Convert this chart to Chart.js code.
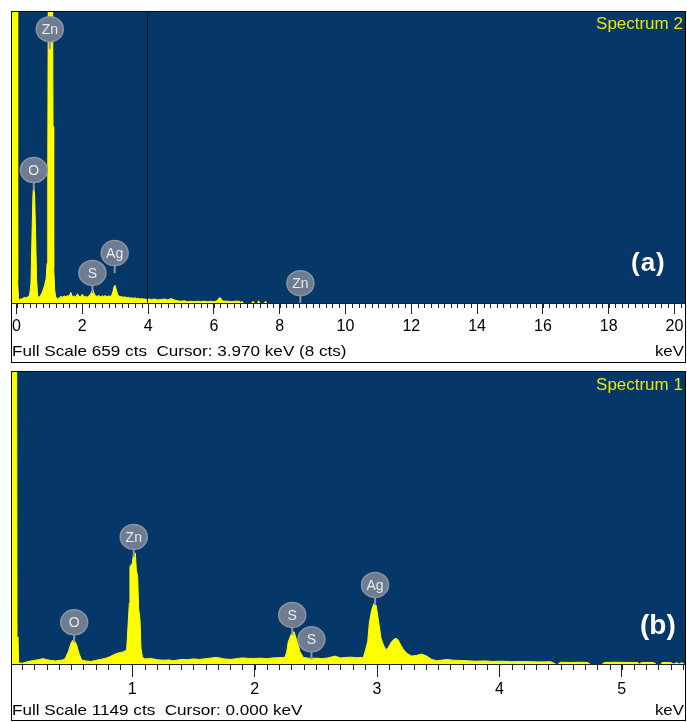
<!DOCTYPE html>
<html><head><meta charset="utf-8">
<script src="https://cdn.jsdelivr.net/npm/chart.js@4.4.1/dist/chart.umd.min.js"></script>
<style>
html,body{margin:0;padding:0;background:#fff;width:687px;height:722px;overflow:hidden;font-family:'Liberation Sans',Arial,sans-serif;}
.frame{position:absolute;border:1px solid #000;box-sizing:border-box;}
canvas{position:absolute;}
.t{position:absolute;white-space:pre;line-height:1;}
.sl{transform:scaleX(1.14);transform-origin:left center;}
.sr{transform:scaleX(1.12);transform-origin:right center;}
.ss{transform:scaleX(1.06);transform-origin:right center;}
</style></head><body>
<div class="frame" style="left:11px;top:11px;width:675px;height:352px"></div>
<div class="frame" style="left:11px;top:371px;width:675px;height:350px"></div>
<canvas id="ca" width="673" height="331" style="left:12px;top:12px;width:673px;height:331px"></canvas>
<canvas id="cb" width="673" height="332" style="left:12px;top:372px;width:673px;height:332px"></canvas>
<div class="t sl" style="left:12px;top:343px;font-size:15px;color:#000">Full Scale 659 cts  Cursor: 3.970 keV (8 cts)</div>
<div class="t sr" style="right:3px;top:343px;font-size:15px;color:#000">keV</div>
<div class="t ss" style="right:4px;top:16px;font-size:16px;color:#e6e60c">Spectrum 2</div>
<div class="t" style="left:631px;top:249px;font-size:26px;font-weight:bold;color:#fff;letter-spacing:1px">(a)</div>
<div class="t sl" style="left:12px;top:702px;font-size:15px;color:#000">Full Scale 1149 cts  Cursor: 0.000 keV</div>
<div class="t sr" style="right:3px;top:702px;font-size:15px;color:#000">keV</div>
<div class="t ss" style="right:4px;top:377px;font-size:16px;color:#e6e60c">Spectrum 1</div>
<div class="t" style="left:640px;top:611px;font-size:28px;font-weight:bold;color:#fff">(b)</div>
<script>
// ---------- Panel (a): Spectrum 2 ----------
const energiesA = [-0.14,0.015,0.035,0.06,0.10,0.15,0.20,0.25,0.30,0.35,0.40,0.44,0.47,0.50,0.52,0.55,0.58,0.61,0.64,0.67,0.70,0.74,0.78,0.82,0.86,0.90,0.93,0.95,0.97,1.00,1.06,1.09,1.11,1.13,1.16,1.19,1.25,1.30,1.35,1.40,1.45,1.50,1.55,1.60,1.65,1.70,1.75,1.80,1.85,1.90,1.95,2.00,2.05,2.10,2.15,2.20,2.25,2.29,2.32,2.36,2.40,2.45,2.50,2.55,2.60,2.65,2.70,2.75,2.80,2.85,2.90,2.93,2.97,3.00,3.04,3.08,3.13,3.20,3.25,3.30,3.35,3.40,3.45,3.50,3.55,3.60,3.65,3.70,3.75,3.80,3.85,3.90,3.95,4.00,4.10,4.20,4.30,4.40,4.50,4.60,4.70,4.80,4.90,5.00,5.10,5.20,5.30,5.40,5.50,5.60,5.70,5.80,5.90,6.00,6.10,6.15,6.20,6.25,6.35,6.45,6.55,6.65,6.75,6.80,6.83,6.86,6.89,7.15,7.19,7.23,7.33,7.36,7.39,7.54,7.57,7.60,20.32];
const countsA = [900,900,50,10,8,9,11,13,12,14,18,45,150,245,263,245,160,55,18,12,14,18,24,32,42,55,90,300,800,1500,1500,900,400,80,30,14,9,12,15,13,16,14,17,15,24,14,16,13,21,15,14,20,14,15,13,16,20,27,30,22,16,15,17,14,16,15,17,14,16,15,18,26,38,40,28,18,15,14,13,14,12,13,11,12,10,12,10,11,9,10,9,9,8,9,8,9,7,8,9,7,10,7,5,4,5,3,4,3,4,3,4,3,4,3,5,11,12,5,4,4,3,4,4,3,0,4,0,0,4,0,0,5,0,0,4,0,0];
const tickValuesA = [0,2,4,6,8,10,12,14,16,18,20];
const tickLabelsA = ['0','2','4','6','8','10','12','14','16','18','20'];
const badgeLabelsA = ['Zn','O','S','Ag','Zn'];
const badgeEnergiesA = [1.012,0.525,2.307,2.984,8.63];
const badgeHeightsA = [620,301,68,113,45];
const cursorA = 3.97;
const fullScaleA = 659;
const rangeA = [-0.137, 20.32];

// ---------- Panel (b): Spectrum 1 ----------
const energiesB = [0.017,0.055,0.058,0.066,0.072,0.10,0.137,0.17,0.20,0.24,0.27,0.31,0.34,0.37,0.40,0.43,0.45,0.477,0.504,0.523,0.545,0.564,0.586,0.62,0.66,0.70,0.74,0.78,0.818,0.859,0.90,0.927,0.954,0.968,0.976,0.981,1.0,1.011,1.025,1.033,1.044,1.052,1.063,1.071,1.082,1.10,1.15,1.20,1.25,1.30,1.337,1.40,1.45,1.50,1.55,1.60,1.65,1.69,1.75,1.80,1.85,1.90,1.95,1.99,2.05,2.10,2.15,2.20,2.248,2.262,2.275,2.303,2.322,2.338,2.352,2.371,2.398,2.45,2.50,2.55,2.60,2.657,2.70,2.78,2.83,2.888,2.902,2.924,2.937,2.956,2.975,2.992,3.003,3.019,3.033,3.052,3.074,3.093,3.12,3.147,3.169,3.194,3.215,3.243,3.284,3.324,3.365,3.406,3.447,3.488,3.53,3.57,3.62,3.68,3.73,3.80,3.88,3.95,4.02,4.10,4.18,4.26,4.34,4.42,4.46,4.48,4.50,4.58,4.66,4.72,4.74,4.84,4.86,4.95,5.05,5.13,5.145,5.16,5.26,5.28,5.32,5.33,5.40,5.42,5.45,5.47,5.49,5.51,5.517];
const countsB = [1300,1300,107,100,4,3,8,12,14,18,21,16,14,12,14,16,20,48,88,97,75,42,16,12,10,14,18,22,29,39,45,48,55,173,239,383,396,436,436,370,344,219,173,62,29,20,22,17,15,16,13,18,17,20,18,21,24,26,20,18,21,24,22,22,23,21,24,25,26,48,88,121,127,101,81,48,26,22,23,21,24,31,24,27,25,26,48,88,160,212,239,232,200,147,101,75,55,66,88,101,97,75,58,42,31,34,39,31,18,13,15,18,15,14,13,11,12,10,11,9,10,9,8,9,0,0,7,6,7,6,0,0,6,7,6,6,0,6,6,0,0,6,6,0,5,0,5,0,0];
const tickValuesB = [1,2,3,4,5];
const tickLabelsB = ['1','2','3','4','5'];
const badgeLabelsB = ['O','Zn','S','S','Ag'];
const badgeEnergiesB = [0.525,1.012,2.307,2.464,2.984];
const badgeHeightsB = [164,500,193,97,311];
const fullScaleB = 1149;
const rangeB = [0.017, 5.517];

const BLUE = '#053768';
const YELLOW = '#ffff00';
Chart.defaults.font.family = "'Liberation Sans', Arial, sans-serif";

function makeChart(id, energies, counts, range, fullScale, tickValues, tickLabels, badgeLabels, badgeEnergies, badgeHeights, minorStep, minorCount, majorLen, minorLen, cursor) {
  const bgPlugin = {
    id: 'bg',
    beforeDraw(chart) {
      const {ctx, chartArea: a} = chart;
      ctx.save();
      ctx.fillStyle = BLUE;
      ctx.fillRect(a.left, a.top, a.right - a.left, a.bottom - a.top);
      ctx.restore();
    }
  };
  const overlayPlugin = {
    id: 'overlay',
    afterDatasetsDraw(chart) {
      const {ctx, chartArea: a} = chart;
      const x = chart.scales.x, y = chart.scales.y;
      ctx.save();
      if (cursor !== null) {
        const cx = Math.round(x.getPixelForValue(cursor)) + 0.5;
        ctx.strokeStyle = '#151515';
        ctx.lineWidth = 1;
        ctx.beginPath(); ctx.moveTo(cx, a.top); ctx.lineTo(cx, a.bottom); ctx.stroke();
      }
      badgeLabels.forEach((lab, i) => {
        const px = x.getPixelForValue(badgeEnergies[i]);
        const py = y.getPixelForValue(badgeHeights[i]);
        ctx.strokeStyle = '#8c96a4';
        ctx.lineWidth = 2;
        ctx.beginPath(); ctx.moveTo(px, py + 10); ctx.lineTo(px, py + 20); ctx.stroke();
        ctx.beginPath();
        ctx.ellipse(px, py, 13.5, 12.5, 0, 0, Math.PI * 2);
        ctx.fillStyle = '#6f7c90';
        ctx.fill();
        ctx.lineWidth = 1.5;
        ctx.strokeStyle = '#8a94a3';
        ctx.stroke();
        ctx.fillStyle = '#e8ebf0';
        ctx.font = "14px 'Liberation Sans', Arial, sans-serif";
        ctx.textAlign = 'center';
        ctx.textBaseline = 'middle';
        ctx.fillText(lab, px, py + 1);
      });
      ctx.restore();
    },
    afterDraw(chart) {
      const {ctx, chartArea: a} = chart;
      const x = chart.scales.x;
      ctx.save();
      ctx.strokeStyle = '#222';
      ctx.lineWidth = 1;
      for (let i = 0; i <= minorCount; i++) {
        const v = i * minorStep;
        if (v < range[0] || v > range[1]) continue;
        const px = Math.round(x.getPixelForValue(v)) + 0.5;
        ctx.beginPath(); ctx.moveTo(px, a.bottom); ctx.lineTo(px, a.bottom + minorLen); ctx.stroke();
      }
      ctx.restore();
    }
  };
  return new Chart(document.getElementById(id), {
    type: 'line',
    data: {
      datasets: [{
        data: energies.map((e, i) => ({x: e, y: counts[i]})),
        borderColor: YELLOW,
        backgroundColor: YELLOW,
        borderWidth: 1,
        fill: 'origin',
        pointRadius: 0,
        tension: 0,
        clip: 0,
        segment: {
          borderColor: c => (c.p0.parsed.y === 0 && c.p1.parsed.y === 0) ? 'rgba(0,0,0,0)' : undefined
        }
      }]
    },
    options: {
      responsive: false,
      animation: false,
      devicePixelRatio: 1,
      events: [],
      layout: {padding: 0},
      plugins: {legend: {display: false}, tooltip: {enabled: false}},
      scales: {
        x: {
          type: 'linear',
          min: range[0],
          max: range[1],
          afterBuildTicks: s => { s.ticks = tickValues.map(v => ({value: v})); },
          afterFit: s => { s.height = 40; s.paddingLeft = 0; s.paddingRight = 0; },
          border: {display: true, color: '#222', width: 1},
          grid: {display: true, drawOnChartArea: false, drawTicks: true, tickLength: majorLen, color: '#222', tickColor: '#222'},
          ticks: {
            autoSkip: false, maxRotation: 0, minRotation: 0, padding: 3,
            color: '#000', font: {size: 16},
            callback: v => { const k = tickValues.indexOf(v); return k >= 0 ? tickLabels[k] : ''; }
          }
        },
        y: {display: false, min: 0, max: fullScale}
      }
    },
    plugins: [bgPlugin, overlayPlugin]
  });
}

makeChart('ca', energiesA, countsA, rangeA, fullScaleA, tickValuesA, tickLabelsA, badgeLabelsA, badgeEnergiesA, badgeHeightsA, 0.2, 102, 11, 5, cursorA);
makeChart('cb', energiesB, countsB, rangeB, fullScaleB, tickValuesB, tickLabelsB, badgeLabelsB, badgeEnergiesB, badgeHeightsB, 0.1, 56, 13, 6, null);
</script>
</body></html>
